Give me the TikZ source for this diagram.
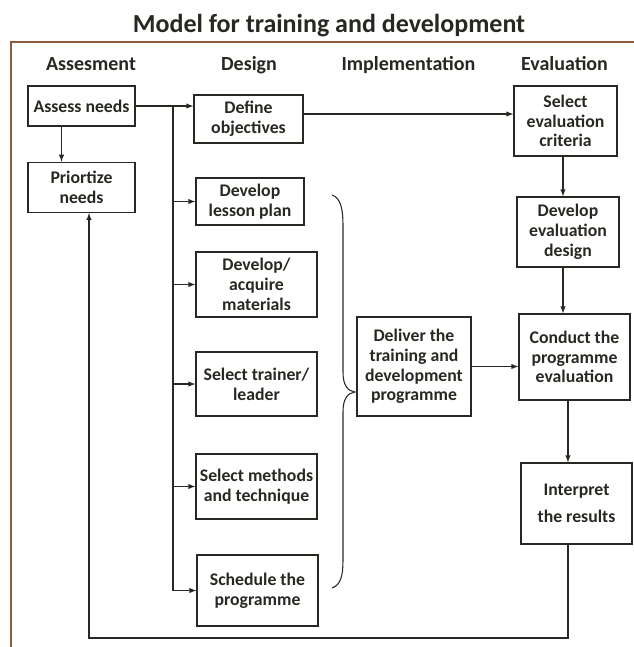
\documentclass[tikz,border=0pt]{standalone}
\usepackage{fontspec}
\setmainfont{Carlito}
\usetikzlibrary{positioning}
\definecolor{framebrown}{RGB}{140,92,62}
\definecolor{ink}{RGB}{40,40,34}

\begin{document}
\begin{tikzpicture}[x=0.75pt,y=-0.75pt,>=latex,line width=0.8pt,color=ink]
                \tikzset{box/.style 2 args={draw, align=center, inner sep=0pt, line width=1pt,
                                font=\bfseries\fontsize{13.3}{14.8}\selectfont,
                                minimum width=#1*0.75pt, minimum height=#2*0.75pt},
                         head/.style={anchor=base, font=\bfseries\fontsize{15}{18}\selectfont}}
                \useasboundingbox (0,0) rectangle (633,647);
                \draw[framebrown, line width=1.5pt] (11,42) rectangle (690,700);
                \node (title)      [anchor=base, font=\bfseries\fontsize{19.5}{23}\selectfont] at (329,32) {Model for training and development};
                % column heads
                \node (hassess)    [head] at (91,70)    {Assesment};
                \node (hdesign)    [head] at (249,70)   {Design};
                \node (himpl)      [head] at (408.5,70) {Implementation};
                \node (heval)      [head] at (564.5,70) {Evaluation};
                % assesment
                \node (assess)     [box={107}{40}] at (81.5,106)                       {Assess needs};
                \node (prior)      [box={107}{50}, below=26.25pt of assess]            {Priortize\\needs};
                % design
                \node (define)     [box={109}{48}] at (248.5,119)                      {Define\\objectives};
                \node (lesson)     [box={108}{47}] at (250,201.5)                      {Develop\\lesson plan};
                \node (materials)  [box={121}{65}] at (256.5,284.5)                    {Develop/\\acquire\\materials};
                \node (trainer)    [box={121}{64}] at (256.5,384)                      {Select trainer/\\leader};
                \node (methods)    [box={121}{65}] at (256.5,486.5)                    {Select methods\\and technique};
                \node (schedule)   [box={121}{71}] at (257.5,590.5)                    {Schedule the\\programme};
                % implementation
                \node (deliver)    [box={114}{99}] at (414,366.5)                      {Deliver the\\training and\\development\\programme};
                % evaluation
                \node (criteria)   [box={103}{70}] at (565.5,121)                      {Select\\evaluation\\criteria};
                \node (evaldesign) [box={102}{70}] at (568,232)                        {Develop\\evaluation\\design};
                \node (conduct)    [box={111}{86}] at (574.5,357)                      {Conduct the\\programme\\evaluation};
                \node (interpret)  [box={111}{81}] at (576.5,503.5)                    {Interpret\\[5.5pt]the results};
                \coordinate (bus)  at (173,0);
                \coordinate (back) at (89,638);
                \draw[->] (assess.east) -- (assess.east -| define.west);
                \draw[->] ([xshift=-15pt]assess.south) -- ([xshift=-15pt]prior.north);
                \draw     (bus |- assess.east) -- (bus |- schedule);
                \foreach \n in {lesson,materials,trainer,methods,schedule}
                    \draw[->] (bus |- \n) -- (\n.west);
                \draw[->] ([yshift=3.75pt]define.east) -- ([yshift=3.75pt]define.east -| criteria.west);
                \draw[->] ([xshift=-1.9pt]criteria.south) -- ([xshift=-1.9pt]criteria.south |- evaldesign.north);
                \draw[->] ([xshift=-3.75pt]evaldesign.south) -- ([xshift=-3.75pt]evaldesign.south |- conduct.north);
                \draw[->] (deliver.east) -- (deliver.east -| conduct.west);
                \draw[->] ([xshift=-4.9pt]conduct.south) -- ([xshift=-4.9pt]conduct.south |- interpret.north);
                \draw[->] ([xshift=-6.4pt]interpret.south) |- (back) -- (back |- prior.south);
                % brace
                \draw (332,195) .. controls (341,198) and (343,210) .. (343,225) -- (343,372)
                      .. controls (343,386) and (348,391) .. (355,392)
                      .. controls (348,393) and (343,398) .. (343,412) -- (343,560)
                      .. controls (343,575) and (341,585) .. (332,588);
            \end{tikzpicture}
\end{document}
